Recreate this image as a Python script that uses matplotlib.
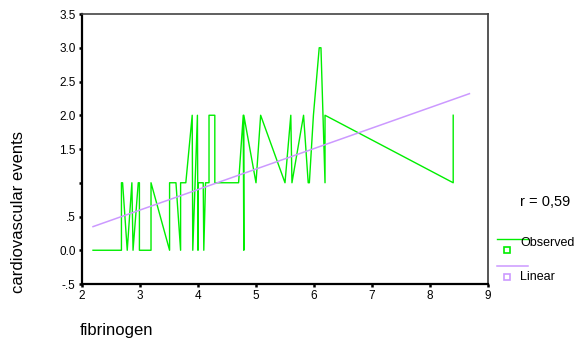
import matplotlib.pyplot as plt
from matplotlib.lines import Line2D

plt.rcParams['font.family'] = ['Liberation Sans', 'DejaVu Sans']

# observed values (connected in fibrinogen order)
obs_x = [2.19, 2.48, 2.50, 2.68, 2.68, 2.70, 2.78, 2.86, 2.88, 2.97, 2.99, 2.99,
         3.19, 3.19, 3.51, 3.51, 3.62, 3.70, 3.70, 3.79, 3.90, 3.91, 3.99, 4.00,
         4.00, 4.09, 4.10, 4.13, 4.19, 4.19, 4.29, 4.29, 4.70, 4.78, 4.79, 4.79,
         5.00, 5.08, 5.50, 5.60, 5.62, 5.82, 5.90, 5.92, 5.99, 6.09, 6.12, 6.19,
         6.19, 8.40, 8.40]
obs_y = [0, 0, 0, 0, 1, 1, 0, 1, 0, 1, 1, 0,
         0, 1, 0, 1, 1, 0, 1, 1, 2, 0, 2, 0,
         1, 1, 0, 1, 1, 2, 2, 1, 1, 2, 0, 2,
         1, 2, 1, 2, 1, 2, 1, 1, 2, 3, 3, 1,
         2, 1, 2]

# linear fit line
lin_x = [2.19, 8.68]
lin_y = [0.35, 2.32]

r_text = "r = 0,59"
x_ticks = [2, 3, 4, 5, 6, 7, 8, 9]
y_ticks = [-0.5, 0.0, 0.5, 1.0, 1.5, 2.0, 2.5, 3.0, 3.5]
y_tick_labels = ["-.5", "0.0", ".5", "", "1.5", "2.0", "2.5", "3.0", "3.5"]

green = "#00ee00"
purple = "#cc99ff"

fig = plt.figure(figsize=(5.75, 3.45), dpi=100)
ax = fig.add_axes([0.1426, 0.1768, 0.7061, 0.7826])

ax.plot(obs_x, obs_y, color=green, lw=1.0)
ax.plot(lin_x, lin_y, color=purple, lw=1.1)

ax.set_xlim(2, 9)
ax.set_ylim(-0.5, 3.5)
ax.set_xticks(x_ticks)
ax.set_yticks(y_ticks)
ax.set_yticklabels(y_tick_labels)
ax.tick_params(axis="both", labelsize=8.5, length=2.5, width=1.8, pad=2, colors="black")

ax.spines["left"].set_linewidth(1.6)
ax.spines["bottom"].set_linewidth(1.6)
ax.spines["top"].set_color("#444444")
ax.spines["top"].set_linewidth(1.2)
ax.spines["right"].set_color("#555555")
ax.spines["right"].set_linewidth(1.4)

W, H = 575.0, 345.0
def fx(px):
    return px / W
def fy(py):
    return 1 - py / H

fig.text(fx(19), fy(212), "cardiovascular events", rotation=90,
         ha="center", va="center", fontsize=12)
fig.text(fx(80), fy(330), "fibrinogen", ha="left", va="center", fontsize=12)

fig.text(fx(520), fy(202), r_text, ha="left", va="center", fontsize=10.5)

# legend, drawn by hand like the original
fig.add_artist(Line2D([fx(497), fx(528)], [fy(239), fy(239)], color=green, lw=1.0))
fig.add_artist(Line2D([fx(507)], [fy(250)], marker="s", markersize=4,
                      markerfacecolor="white", markeredgecolor=green, markeredgewidth=1.2))
fig.text(fx(520), fy(243), "Observed", ha="left", va="center", fontsize=9)

fig.add_artist(Line2D([fx(497), fx(528)], [fy(266), fy(266)], color=purple, lw=1.1))
fig.add_artist(Line2D([fx(507)], [fy(277)], marker="s", markersize=4,
                      markerfacecolor="white", markeredgecolor=purple, markeredgewidth=1.2))
fig.text(fx(520), fy(277), "Linear", ha="left", va="center", fontsize=9)

plt.savefig("out.png", dpi=100)
